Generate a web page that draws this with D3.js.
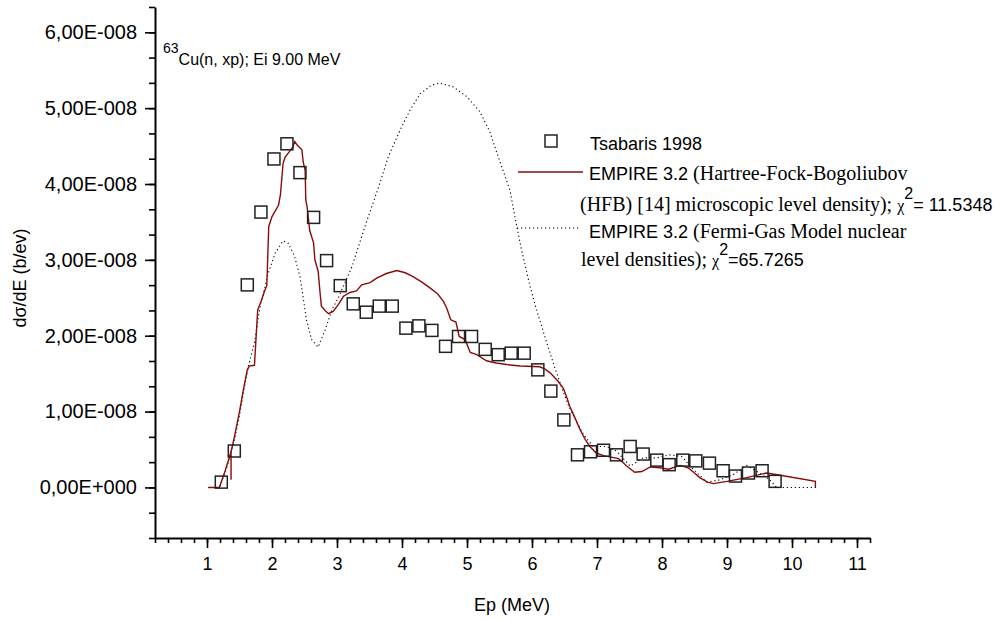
<!DOCTYPE html>
<html>
<head>
<meta charset="utf-8">
<script src="https://cdn.jsdelivr.net/npm/d3@7"></script>
<style>
  body { margin: 0; background: #fff; }
  svg { display: block; font-family: "Liberation Sans", Arial, sans-serif; }
</style>
</head>
<body>
<svg id="chart"></svg>
<script>
// Tsabaris 1998 experimental points (Ep in MeV, dσ/dE in units of 1E-8 b/eV)
const expE = [1.22, 1.42, 1.62, 1.83, 2.03, 2.23, 2.43, 2.64, 2.84, 3.05, 3.25, 3.45, 3.65, 3.85,
  4.06, 4.26, 4.46, 4.67, 4.87, 5.07, 5.28, 5.48, 5.68, 5.88, 6.09, 6.29, 6.49, 6.70, 6.90, 7.10,
  7.30, 7.51, 7.71, 7.92, 8.11, 8.32, 8.52, 8.73, 8.94, 9.13, 9.33, 9.54, 9.74];
const expV = [0.07, 0.48, 2.67, 3.63, 4.33, 4.53, 4.15, 3.56, 2.99, 2.66, 2.42, 2.31, 2.39, 2.39,
  2.10, 2.13, 2.07, 1.86, 1.99, 1.99, 1.82, 1.75, 1.77, 1.77, 1.55, 1.27, 0.89, 0.43, 0.47, 0.49,
  0.43, 0.54, 0.44, 0.36, 0.30, 0.36, 0.35, 0.32, 0.22, 0.15, 0.19, 0.22, 0.08];

// EMPIRE 3.2 HFB level densities
const hfbE = [1.02, 1.19, 1.28, 1.37, 1.37, 1.37, 1.42, 1.50, 1.56, 1.62, 1.65, 1.73, 1.78, 1.84,
  1.89, 1.92, 1.95, 2.00, 2.10, 2.13, 2.17, 2.20, 2.27, 2.32, 2.35, 2.39, 2.46, 2.48, 2.51, 2.52,
  2.54, 2.58, 2.64, 2.66, 2.71, 2.74, 2.76, 2.82, 2.87, 2.94, 3.02, 3.10, 3.20, 3.30, 3.38, 3.51,
  3.61, 3.76, 3.92, 4.05, 4.17, 4.30, 4.43, 4.55, 4.64, 4.69, 4.75, 4.83, 4.88, 4.97, 5.05, 5.15,
  5.30, 5.45, 5.61, 5.82, 6.12, 6.20, 6.28, 6.40, 6.48, 6.53, 6.58, 6.66, 6.74, 6.82, 6.89, 6.98,
  7.10, 7.33, 7.40, 7.46, 7.58, 7.69, 7.82, 7.97, 8.10, 8.28, 8.40, 8.50, 8.58, 8.70, 8.79, 9.00,
  9.30, 9.61, 9.82, 10.36, 10.36];
const hfbV = [0, 0, 0.22, 0.47, 0.10, 0.47, 0.66, 1.00, 1.29, 1.55, 1.60, 1.61, 2.34, 2.47,
  2.60, 2.66, 3.44, 3.57, 3.72, 3.86, 4.27, 4.35, 4.43, 4.49, 4.56, 4.51, 4.45, 4.29, 4.18, 3.79,
  3.70, 3.39, 3.22, 3.00, 2.85, 2.56, 2.39, 2.33, 2.29, 2.32, 2.41, 2.52, 2.57, 2.59, 2.67, 2.70,
  2.76, 2.82, 2.86, 2.83, 2.78, 2.71, 2.63, 2.55, 2.45, 2.36, 2.21, 2.18, 1.99, 1.95, 1.78, 1.75,
  1.67, 1.64, 1.62, 1.60, 1.59, 1.56, 1.51, 1.40, 1.31, 1.20, 1.07, 0.92, 0.76, 0.63, 0.54, 0.46,
  0.42, 0.38, 0.33, 0.28, 0.20, 0.21, 0.27, 0.26, 0.24, 0.29, 0.26, 0.19, 0.13, 0.07, 0.05, 0.08,
  0.13, 0.19, 0.16, 0.08, 0];

// EMPIRE 3.2 Fermi-Gas Model level densities
const fgmE = [1.02, 1.19, 1.30, 1.42, 1.50, 1.56, 1.63, 1.74, 1.82, 1.87, 1.94, 2.05, 2.17, 2.25,
  2.35, 2.43, 2.48, 2.53, 2.61, 2.71, 2.82, 2.92, 3.02, 3.23, 3.43, 3.64, 3.79, 3.97, 4.12, 4.28,
  4.45, 4.58, 4.79, 5.00, 5.20, 5.35, 5.48, 5.66, 5.74, 5.84, 5.97, 6.07, 6.23, 6.35, 6.46, 6.55,
  6.64, 6.79, 6.94, 7.15, 7.30, 7.51, 7.71, 7.92, 8.12, 8.30, 8.48, 8.69, 8.89, 9.10, 9.30, 9.46,
  9.66, 9.76, 10.38];
const fgmV = [0, 0, 0.25, 0.62, 0.95, 1.25, 1.57, 1.95, 2.41, 2.56, 2.82, 3.09, 3.25, 3.22,
  3.04, 2.78, 2.50, 2.21, 1.95, 1.85, 2.08, 2.34, 2.50, 2.91, 3.44, 3.96, 4.36, 4.71, 4.97, 5.19,
  5.30, 5.33, 5.28, 5.15, 4.95, 4.69, 4.36, 3.92, 3.55, 3.13, 2.65, 2.34, 1.90, 1.58, 1.31, 1.10,
  0.94, 0.70, 0.54, 0.54, 0.48, 0.28, 0.39, 0.39, 0.43, 0.41, 0.24, 0.07, 0.10, 0.17, 0.29, 0.21,
  0.10, 0, 0];

const xTicks = [1, 2, 3, 4, 5, 6, 7, 8, 9, 10, 11];
const yTicks = [0, 1, 2, 3, 4, 5, 6];

const W = 1005, H = 621;
const svg = d3.select('#chart').attr('width', W).attr('height', H);

const x = d3.scaleLinear().domain([0.2, 11.2]).range([155, 870]);
const y = d3.scaleLinear().domain([-2 / 3, 19 / 3]).range([538, 7]);

// 6,00E-008 style labels
function sciComma(v) {
  const val = v * 1e-8;
  if (val === 0) return '0,00E+000';
  const e = Math.floor(Math.log10(Math.abs(val)) + 1e-9);
  const m = val / Math.pow(10, e);
  return m.toFixed(2).replace('.', ',') + 'E' + (e < 0 ? '-' : '+') + String(Math.abs(e)).padStart(3, '0');
}

// minor ticks
const xMinor = d3.range(0, 56).map(i => 0.2 + i * 0.2);
const yMinor = d3.range(0, 22).map(i => -2 / 3 + i / 3);

const gx = svg.append('g').attr('transform', 'translate(0,538)');
gx.append('g')
  .call(d3.axisBottom(x).tickValues(xMinor).tickSize(5).tickSizeOuter(0).tickFormat(''))
  .call(g => g.select('.domain').remove());
gx.append('g')
  .call(d3.axisBottom(x).tickValues(xTicks).tickSize(10).tickSizeOuter(0).tickPadding(9).tickFormat(d3.format('d')))
  .call(g => g.select('.domain').attr('stroke-width', 2));

const gy = svg.append('g').attr('transform', 'translate(155,0)');
gy.append('g')
  .call(d3.axisLeft(y).tickValues(yMinor).tickSize(6).tickSizeOuter(0).tickFormat(''))
  .call(g => g.select('.domain').remove());
gy.append('g')
  .call(d3.axisLeft(y).tickValues(yTicks).tickSize(10).tickSizeOuter(0).tickPadding(8).tickFormat(sciComma))
  .call(g => g.select('.domain').attr('stroke-width', 2));

svg.selectAll('.tick line').attr('stroke', '#000').attr('stroke-width', 1.6);
gx.selectAll('.tick text').attr('font-size', 18).attr('font-family', '"Liberation Sans", Arial, sans-serif').attr('fill', '#000');
gy.selectAll('.tick text').attr('font-size', 20).attr('font-family', '"Liberation Sans", Arial, sans-serif').attr('fill', '#000');

// axis titles
svg.append('text')
  .attr('x', 512).attr('y', 611)
  .attr('text-anchor', 'middle')
  .attr('font-size', 18)
  .text('Ep (MeV)');

svg.append('text')
  .attr('transform', 'translate(26,278) rotate(-90)')
  .attr('text-anchor', 'middle')
  .attr('font-size', 18)
  .text('dσ/dE (b/ev)');

// annotation
const note = svg.append('text').attr('x', 163).attr('y', 65).attr('font-size', 16);
note.append('tspan').attr('font-size', 14).attr('dy', -12).text('63');
note.append('tspan').attr('dy', 12).text('Cu(n, xp); Ei 9.00 MeV');

// curves
const line = (E, V) => d3.line()
  .x((d, i) => x(E[i]))
  .y((d, i) => y(V[i]))(E);

svg.append('path')
  .attr('d', line(fgmE, fgmV))
  .attr('fill', 'none')
  .attr('stroke', '#000')
  .attr('stroke-width', 1.1)
  .attr('stroke-dasharray', '1.2,2.8');

svg.append('path')
  .attr('d', line(hfbE, hfbV))
  .attr('fill', 'none')
  .attr('stroke', '#8b0a0a')
  .attr('stroke-width', 1.4);

// experimental points
const S = 12;
svg.append('g').selectAll('rect')
  .data(expE)
  .join('rect')
  .attr('x', (d, i) => x(d) - S / 2)
  .attr('y', (d, i) => y(expV[i]) - S / 2)
  .attr('width', S)
  .attr('height', S)
  .attr('fill', 'none')
  .attr('stroke', '#222')
  .attr('stroke-width', 1.5);

// legend
const serif = '"Liberation Serif", "Times New Roman", serif';
const lg = svg.append('g');
lg.append('rect')
  .attr('x', 551 - S / 2).attr('y', 141 - S / 2)
  .attr('width', S).attr('height', S)
  .attr('fill', 'none').attr('stroke', '#222').attr('stroke-width', 1.5);
lg.append('text').attr('x', 590).attr('y', 150).attr('font-size', 18).text('Tsabaris 1998');

lg.append('line')
  .attr('x1', 518).attr('x2', 583).attr('y1', 172).attr('y2', 172)
  .attr('stroke', '#8b0a0a').attr('stroke-width', 1.4);
let t = lg.append('text').attr('x', 589).attr('y', 180).attr('font-size', 18);
t.append('tspan').text('EMPIRE 3.2 ');
t.append('tspan').attr('font-family', serif).attr('font-size', 20).text('(Hartree-Fock-Bogoliubov');

t = lg.append('text').attr('x', 580).attr('y', 211).attr('font-size', 18);
t.append('tspan').attr('font-family', serif).attr('font-size', 20).text('(HFB) [14] microscopic level density); ');
t.append('tspan').attr('font-family', serif).attr('font-size', 16).text('χ');
t.append('tspan').attr('font-size', 16).attr('dy', -12).text('2');
t.append('tspan').attr('dy', 12).text('= 11.5348');

lg.append('line')
  .attr('x1', 517).attr('x2', 581).attr('y1', 228).attr('y2', 228)
  .attr('stroke', '#000').attr('stroke-width', 1.1).attr('stroke-dasharray', '1.2,2.8');
t = lg.append('text').attr('x', 589).attr('y', 238).attr('font-size', 18);
t.append('tspan').text('EMPIRE 3.2 ');
t.append('tspan').attr('font-family', serif).attr('font-size', 20).text('(Fermi-Gas Model nuclear');

t = lg.append('text').attr('x', 581).attr('y', 266).attr('font-size', 18);
t.append('tspan').attr('font-family', serif).attr('font-size', 20).text('level densities); ');
t.append('tspan').attr('font-family', serif).attr('font-size', 16).text('χ');
t.append('tspan').attr('font-size', 16).attr('dy', -11).text('2');
t.append('tspan').attr('dy', 11).text('=65.7265');
</script>
</body>
</html>
